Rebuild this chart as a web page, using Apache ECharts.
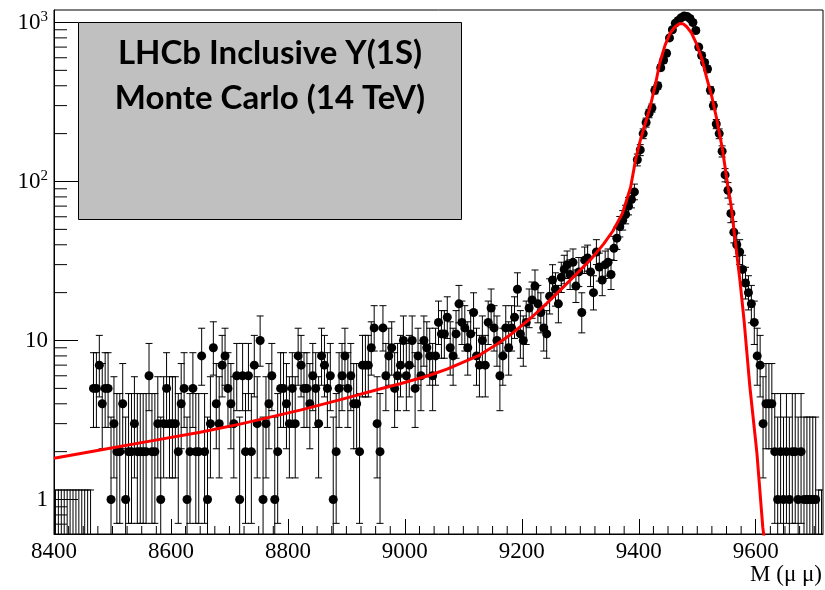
<!DOCTYPE html>
<html>
<head>
<meta charset="utf-8">
<title>LHCb Inclusive Υ(1S) mass spectrum</title>
<script src="https://cdn.jsdelivr.net/npm/echarts@6/dist/echarts.min.js"></script>
<style>
  html, body { margin: 0; padding: 0; background: #fff; }
  #chart { width: 825px; height: 590px; }
</style>
</head>
<body>
<div id="chart"></div>
<script>
// Dimuon invariant mass histogram, 5 MeV bins from 8400 to 9715 MeV
const massMin = 8400;
const massMax = 9715;
const binWidth = 5;

// Events per bin
const counts = [
  0, 0, 0, 0, 0, 0, 0, 0, 0, 0,
  0, 0, 0, 5, 5, 7, 4, 5, 5, 1,
  3, 2, 2, 4, 1, 2, 2, 3, 2, 2,
  2, 2, 6, 2, 2, 3, 1, 3, 5, 3,
  3, 3, 2, 4, 5, 1, 2, 5, 2, 2,
  8, 2, 1, 3, 9, 4, 3, 7, 8, 5,
  4, 3, 6, 1, 6, 2, 6, 2, 7, 3,
  10, 1, 3, 4, 6, 1, 2, 5, 5, 4,
  3, 5, 3, 8, 7, 5, 5, 4, 6, 5,
  3, 8, 7, 5, 6, 1, 2, 5, 6, 8,
  5, 6, 4, 4, 2, 7, 7, 7, 9, 12,
  3, 2, 12, 6, 8, 9, 5, 6, 7, 10,
  6, 7, 10, 5, 8, 6, 10, 9, 8, 6,
  8, 13, 11, 11, 14, 9, 8, 11, 17, 13,
  12, 9, 11, 15, 8, 7, 10, 7, 13, 16,
  12, 10, 6, 8, 12, 9, 12, 14, 21, 11,
  10, 13, 16, 18, 22, 17, 15, 12, 11, 19,
  24, 21, 17, 25, 28, 30, 26, 31, 22, 27,
  15, 32, 33, 27, 20, 36, 29, 24, 30, 31,
  26, 38, 44, 52, 57, 62, 70, 77, 86, 137,
  158, 200, 235, 268, 290, 375, 400, 520, 580, 640,
  800, 900, 990, 1030, 1070, 1100, 1090, 1060, 1000, 890,
  700, 620, 560, 510, 375, 300, 230, 200, 155, 110,
  88, 63, 48, 40, 36, 28, 23, 20, 17, 13,
  8, 7, 3, 4, 4, 4, 2, 1, 2, 1,
  2, 1, 2, 2, 1, 2, 1, 1, 1, 1,
  1, 0, 0
];

// Fitted line shape (mass in MeV, events per bin)
const fitMass = [8400, 8479, 8564, 8650, 8718, 8821, 8890, 8957, 8992, 9040,
                 9072, 9128, 9160, 9185, 9215, 9243, 9270, 9299, 9320, 9340,
                 9356, 9372, 9386, 9395, 9402, 9410, 9419, 9428, 9436, 9445,
                 9453, 9462, 9470, 9476, 9482, 9490, 9499, 9508, 9516, 9525,
                 9533, 9543, 9552, 9558, 9565, 9573, 9580, 9590, 9602, 9612,
                 9618];
const fitValue = [1.82, 2.05, 2.33, 2.65, 2.98, 3.65, 4.25, 4.95, 5.35, 6.0,
                  6.6, 8.1, 9.6, 11.2, 13.8, 17.2, 21.5, 27.5, 33, 40.5,
                  49, 63, 92, 140, 178, 225, 290, 400, 560, 720,
                  850, 940, 985, 980, 940, 860, 730, 590, 450, 340,
                  250, 160, 95, 70, 42, 23.8, 13.4, 5.1, 1.96, 0.67,
                  0.45];

// Axis ticks
const xTickInterval = 200;
const xMinorStep = 25;
const yMin = 0.607;
const yMax = 1198;
const yMinorTicks = [0.7, 0.8, 0.9, 2, 3, 4, 5, 6, 7, 8, 9,
                     20, 30, 40, 50, 60, 70, 80, 90,
                     200, 300, 400, 500, 600, 700, 800, 900];

const titleLines = ['LHCb Inclusive Υ(1S)', 'Monte Carlo (14 TeV)'];
const xTitle = 'M (μ μ)';

// Poisson (Garwood) 68.27% interval for an observed count
function poissonCdf(n, mu) {
  let term = Math.exp(-mu), sum = term;
  for (let k = 1; k <= n; k++) { term *= mu / k; sum += term; }
  return sum;
}
function poissonInterval(n) {
  const a = 0.1586553;
  if (n === 0) return [0, -Math.log(1 - 0.6826895)];
  if (n > 100) { const s = Math.sqrt(n); return [n - s, n + s]; }
  let lo = 0, hi = n;
  for (let i = 0; i < 60; i++) {
    const mid = (lo + hi) / 2;
    if (1 - poissonCdf(n - 1, mid) < a) lo = mid; else hi = mid;
  }
  const lower = (lo + hi) / 2;
  lo = n; hi = n + 10 * Math.sqrt(n) + 10;
  for (let i = 0; i < 60; i++) {
    const mid = (lo + hi) / 2;
    if (poissonCdf(n, mid) > a) lo = mid; else hi = mid;
  }
  return [lower, (lo + hi) / 2];
}

const binCenters = counts.map((_, i) => massMin + binWidth * (i + 0.5));
const errorData = counts.map((n, i) => {
  const iv = poissonInterval(n);
  return [binCenters[i], n, iv[0], iv[1]];
});
const pointData = [];
counts.forEach((n, i) => { if (n > 0) pointData.push([binCenters[i], n]); });
const fitData = fitMass.map((m, i) => [m, fitValue[i]]);

const xMinorData = [];
for (let m = massMin + xMinorStep; m < massMax; m += xMinorStep) {
  if ((m - massMin) % xTickInterval !== 0) xMinorData.push([m, yMin]);
}
const yMinorData = yMinorTicks.map(v => [massMin, v]);

const serif = 'Liberation Serif, Times New Roman, serif';
const chart = echarts.init(document.getElementById('chart'), null, { renderer: 'canvas' });

chart.setOption({
  animation: false,
  backgroundColor: '#ffffff',
  grid: {
    left: 54, right: 2, top: 10, bottom: 56,
    show: true, borderColor: '#000', borderWidth: 1, backgroundColor: 'transparent'
  },
  xAxis: {
    type: 'value', min: massMin, max: massMax, interval: xTickInterval,
    axisLine: { show: true, lineStyle: { color: '#000', width: 1 } },
    axisTick: { show: true, inside: true, length: 15, lineStyle: { color: '#000', width: 1 } },
    splitLine: { show: false },
    axisLabel: {
      color: '#000', fontFamily: serif, fontSize: 23, margin: 6,
      showMaxLabel: false, formatter: v => String(v)
    }
  },
  yAxis: {
    type: 'log', logBase: 10, min: yMin, max: yMax,
    axisLine: { show: true, lineStyle: { color: '#000', width: 1 } },
    axisTick: { show: true, inside: true, length: 24, lineStyle: { color: '#000', width: 1 } },
    splitLine: { show: false },
    axisLabel: {
      color: '#000', fontFamily: serif, fontSize: 23, margin: 6,
      showMinLabel: false, showMaxLabel: false,
      formatter: v => {
        const e = Math.round(Math.log10(v));
        if (Math.abs(Math.log10(v) - e) > 1e-6) return '';
        if (e === 0) return '{b|1}';
        if (e === 1) return '{b|10}';
        return '{b|10}{s|' + e + '}';
      },
      rich: {
        b: { fontFamily: serif, fontSize: 23, color: '#000' },
        s: { fontFamily: serif, fontSize: 15, color: '#000', verticalAlign: 'top', padding: [0, 0, 10, 0] }
      }
    }
  },
  graphic: [
    {
      type: 'rect', left: 78, top: 22, z: 10,
      shape: { width: 383, height: 197 },
      style: { fill: '#c0c0c0', stroke: '#000', lineWidth: 1 }
    },
    {
      type: 'text', x: 270, y: 53, z: 11,
      style: {
        text: titleLines[0], fill: '#000', font: 'bold 33px Lato, "Open Sans", sans-serif',
        textAlign: 'center', textVerticalAlign: 'middle'
      }
    },
    {
      type: 'text', x: 270, y: 98, z: 11,
      style: {
        text: titleLines[1], fill: '#000', font: 'bold 33px Lato, "Open Sans", sans-serif',
        textAlign: 'center', textVerticalAlign: 'middle'
      }
    },
    {
      type: 'text', right: 3, top: 563, z: 11,
      style: { text: xTitle, fill: '#000', font: '23px ' + serif }
    }
  ],
  series: [
    {
      // y-axis minor ticks
      type: 'custom', silent: true, clip: true, z: 1,
      data: yMinorData,
      renderItem: (params, api) => {
        const p = api.coord([api.value(0), api.value(1)]);
        return { type: 'line', shape: { x1: p[0], y1: p[1], x2: p[0] + 13, y2: p[1] },
                 style: { stroke: '#000', lineWidth: 1 } };
      }
    },
    {
      // x-axis minor ticks
      type: 'custom', silent: true, clip: true, z: 1,
      data: xMinorData,
      renderItem: (params, api) => {
        const p = api.coord([api.value(0), api.value(1)]);
        return { type: 'line', shape: { x1: p[0], y1: p[1], x2: p[0], y2: p[1] - 8 },
                 style: { stroke: '#000', lineWidth: 1 } };
      }
    },
    {
      // Poisson error bars
      type: 'custom', silent: true, clip: true, z: 2,
      data: errorData,
      encode: { x: 0, y: 1 },
      renderItem: (params, api) => {
        const x = api.value(0), lo = api.value(2), hi = api.value(3);
        const top = api.coord([x, hi]);
        const bot = api.coord([x, Math.max(lo, yMin * 0.9)]);
        const cap = 3.5;
        const children = [
          { type: 'line', shape: { x1: top[0], y1: top[1], x2: bot[0], y2: bot[1] },
            style: { stroke: '#000', lineWidth: 1 } },
          { type: 'line', shape: { x1: top[0] - cap, y1: top[1], x2: top[0] + cap, y2: top[1] },
            style: { stroke: '#000', lineWidth: 1 } }
        ];
        if (lo >= yMin) {
          children.push({ type: 'line', shape: { x1: bot[0] - cap, y1: bot[1], x2: bot[0] + cap, y2: bot[1] },
                          style: { stroke: '#000', lineWidth: 1 } });
        }
        return { type: 'group', children };
      }
    },
    {
      type: 'scatter', silent: true, z: 3,
      data: pointData,
      symbol: 'circle', symbolSize: 9,
      itemStyle: { color: '#000', opacity: 1 }
    },
    {
      type: 'line', silent: true, z: 4,
      data: fitData,
      showSymbol: false, smooth: false, clip: true,
      lineStyle: { color: '#ff0000', width: 3 }
    }
  ]
});
</script>
</body>
</html>
